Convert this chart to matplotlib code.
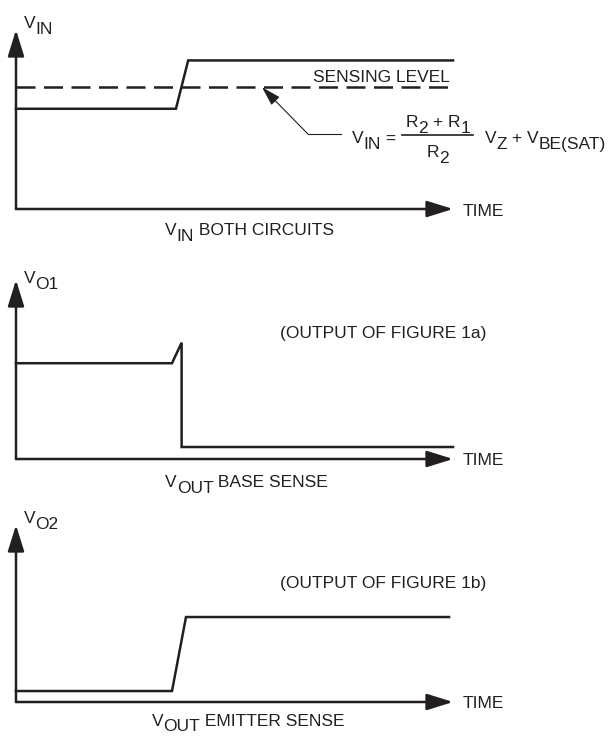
import matplotlib
matplotlib.use("Agg")
import matplotlib.pyplot as plt

# waveform data (time 0..100, level 0..10)
t_in = [0, 36.6, 39.4, 100]
v_in = [5.6, 5.6, 8.3, 8.3]
t_sense = [0, 99.3]
sense_level = 6.8

t_o1 = [0, 35.7, 37.9, 37.9, 100]
v_o1 = [5.35, 5.35, 6.5, 0.67, 0.67]

t_o2 = [0, 35.7, 38.9, 99.1]
v_o2 = [0.62, 0.62, 4.8, 4.8]

W, H = 609, 736
ink = "#231f20"
plt.rcParams["font.family"] = ["Liberation Sans", "DejaVu Sans"]
FS = 12.5

fig = plt.figure(figsize=(W / 100, H / 100), dpi=100)


def panel(y_axis, y_top):
    # axes placed by pixel box: x 16..453, y from axis line up to arrow top
    ax = fig.add_axes([16 / W, 1 - y_axis / H, (453 - 16) / W, (y_axis - y_top) / H])
    ax.set_xlim(0, 100)
    ax.set_ylim(0, 10)
    ax.axis("off")
    ap = dict(arrowstyle="-|>,head_length=1.6,head_width=0.5", color=ink, lw=1.8,
              shrinkA=0, shrinkB=0, mutation_scale=10)
    ax.annotate("", xy=(0, 1), xytext=(0, 0), xycoords="axes fraction", arrowprops=ap)
    ax.annotate("", xy=(1, 0), xytext=(0, 0), xycoords="axes fraction", arrowprops=ap)
    return ax


ax1 = panel(209, 30)
ax1.plot(t_in, v_in, color=ink, lw=1.8, clip_on=False, solid_joinstyle="miter")
ax1.plot(t_sense, [sense_level] * 2, color=ink, lw=1.8, ls=(0, (7.6, 3.4)), clip_on=False)
ax1.plot([74.4, 66.8], [4.19, 4.19], color=ink, lw=0.8, clip_on=False)
ax1.annotate("", xy=(56.3, sense_level), xytext=(66.8, 4.19),
             arrowprops=dict(arrowstyle="-|>,head_length=1.2,head_width=0.35", color=ink,
                             lw=0.8, shrinkA=0, shrinkB=0, mutation_scale=10))

ax2 = panel(459, 280)
ax2.plot(t_o1, v_o1, color=ink, lw=1.8, clip_on=False, solid_joinstyle="miter")

ax3 = panel(702, 525)
ax3.plot(t_o2, v_o2, color=ink, lw=1.8, clip_on=False, solid_joinstyle="miter")

# overlay in pixel coordinates for text
ov = fig.add_axes([0, 0, 1, 1], zorder=5)
ov.set_xlim(0, W)
ov.set_ylim(H, 0)
ov.axis("off")
ov.patch.set_alpha(0)


def rich(x, y, parts, sub=6):
    prev = None
    prev_sub = False
    for s, is_sub in parts:
        if prev is None:
            prev = ov.text(x, y + (sub if is_sub else 0), s, ha="left", va="baseline",
                           fontsize=FS, color=ink)
        else:
            dy = 0
            if is_sub and not prev_sub:
                dy = -sub
            elif prev_sub and not is_sub:
                dy = sub
            prev = ov.annotate(s, xy=(1, 0), xycoords=prev, xytext=(0, dy),
                               textcoords="offset pixels", ha="left", va="bottom",
                               fontsize=FS, color=ink)
        prev_sub = is_sub


# panel 1
rich(24, 28, [("V", 0), ("IN", 1)])
rich(165, 235, [("V", 0), ("IN", 1), (" BOTH CIRCUITS", 0)])
rich(463, 216, [("TIME", 0)])
rich(313, 82, [("SENSING LEVEL", 0)])
rich(352, 143, [("V", 0), ("IN", 1), (" =", 0)])
rich(406, 127, [("R", 0), ("2", 1), (" + R", 0), ("1", 1)])
ov.plot([402, 473], [135, 135], color=ink, lw=1.2)
rich(427, 157, [("R", 0), ("2", 1)])
rich(485, 143, [("V", 0), ("Z", 1), (" + V", 0), ("BE(SAT)", 1)])

# panel 2
rich(24, 283, [("V", 0), ("O1", 1)])
rich(280, 338, [("(OUTPUT OF FIGURE 1a)", 0)])
rich(165, 487, [("V", 0), ("OUT", 1), (" BASE SENSE", 0)])
rich(463, 465, [("TIME", 0)])

# panel 3
rich(24, 523, [("V", 0), ("O2", 1)])
rich(280, 588, [("(OUTPUT OF FIGURE 1b)", 0)])
rich(152, 726, [("V", 0), ("OUT", 1), (" EMITTER SENSE", 0)], sub=5)
rich(463, 708, [("TIME", 0)])

fig.savefig("out.png", dpi=100)
